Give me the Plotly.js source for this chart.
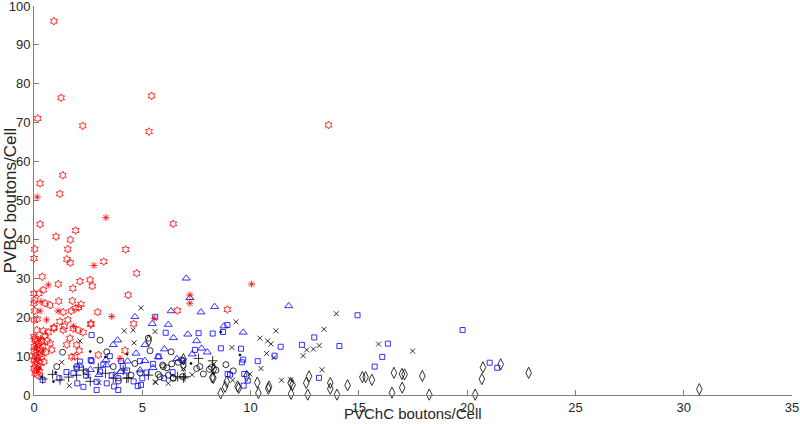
<!DOCTYPE html>
<html>
<head>
<meta charset="utf-8">
<script src="https://cdn.plot.ly/plotly-3.0.1.min.js"></script>
<style>html,body{margin:0;padding:0;background:#fff;}#chart{width:800px;height:424px;}</style>
</head>
<body>
<div id="chart"></div>
<script>
// Red hexagram series (PVChC, PVBC)
const redHexX = [0.92,1.25,5.43,0.17,2.25,5.31,13.6,1.33,0.28,1.19,6.43,0.28,1.92,1.02,1.68,0.03,1.56,4.23,0,1.52,1.68,3.22,
  0.38,2.12,2.59,2.69,1.12,1.79,0.43,0.22,0,0.03,0,0.51,0.74,1.14,1.77,2.17,1.92,2.06,1.72,0.03,1.35,2.94,0,0.15,1.19,1.56,1.4,2.62,0.92,
  4.74,4.35,6.62,8.93,2.63,4.6,4.2,2.97,2.09,1.89,1.74,
  0.12,0.43,0.66,0.92,1.35,1.81,2.04,2.27,0.05,0.36,0.74,0.82,1.51,1.66,1.97,
  0,0.05,0.1,0.2,0.02,0.15,0.3,0,0.1,0.25,0.05,0.18,0,0.12,0.28,0.05,0.2,0,0.1,0.25,0.05,0.15,0.35,0.4,0.45,0.55,0.6,0.5];
const redHexY = [96.1,76.4,76.9,71.1,69.2,67.7,69.4,56.5,54.4,51.7,44.0,43.9,42.3,40.7,39.9,37.5,37.5,37.4,35.1,34.9,34.0,34.3,
  30.4,29.2,29.6,28.0,28.5,27.4,27.0,26.1,26.1,24.4,23.6,23.6,23.1,24.1,24.2,23.3,22.3,22.5,21.6,21.6,21.3,21.3,19.3,19.5,18.9,19.3,17.6,18.1,17.4,
  31.3,25.7,21.7,22.0,18.4,18.3,11.4,10.3,11.4,9.9,9.8,
  16.7,16.5,16.1,17.1,16.7,17.1,16.7,16.1,14.1,13.7,13.3,11.6,12.9,14.6,12.9,
  15.0,14.5,13.8,13.2,12.5,12.0,11.7,11.2,10.8,10.4,10.0,9.5,9.0,8.6,8.2,7.8,7.3,6.9,6.4,6.0,5.6,5.2,9.8,12.5,8.5,11.0,13.9,15.3];

// Red asterisk series
const redAstX = [0.15,3.32,2.77,0.66,0.32,0.28,1.11,3.59,0.58,1.83,7.2,7.2,5.55,10.05,3.97,0.1,0.3,0.05,0.2,0.4];
const redAstY = [50.9,45.6,33.3,28.3,24.0,21.6,21.6,20.2,19.3,17.7,25.7,23.6,19.7,28.5,9.4,12.3,14.5,9.3,6.5,11.3];

// Blue triangle series
const blueTriX = [7.03,7.2,6.33,7.71,4.66,5.46,6.2,8.34,6.44,7.1,7.51,3.86,3.66,5.12,6.02,7.74,7.31,4.71,5.12,5.74,4.32,3.32,3.35,11.76,9.66,8.77,2.6,3.0,4.0,5.5,2.1,4.9,6.6,8.0];
const blueTriY = [30.0,25.0,21.6,21.3,20.1,18.3,18.1,22.7,14.7,15.6,13.9,14.1,12.9,12.9,11.8,12.0,10.5,10.7,8.8,9.8,8.7,9.0,7.7,22.9,16.1,17.7,6.5,5.2,6.0,7.0,7.6,6.4,9.3,11.0];

// Blue square series
const blueSqX = [0.4,1.17,1.97,2.12,2.66,2.28,2.89,3.36,2.89,3.59,3.89,3.05,2.66,2.62,1.82,5.6,6.08,8.25,8.93,8.63,5.75,7.43,4.89,4.02,4.79,4.94,3.89,
  14.94,16.34,16.08,15.73,12.94,12.37,14.1,11.39,11.11,10.33,13.16,8.73,9.56,9.66,9.6,8.94,9.05,9.71,9.87,9.68,19.79,21.04,21.39,
  2.4,3.2,4.3,4.6,5.2,5.5,6.4,3.7,2.0,1.5,4.1,5.0,6.9,7.6,3.5,6.0];
const blueSqY = [3.9,4.3,6.8,8.6,8.7,2.1,3.4,3.0,1.3,5.1,1.3,6.0,15.4,9.0,5.6,20.1,16.0,15.8,18.0,12.0,9.9,11.6,8.7,8.7,2.3,2.6,4.3,
  20.5,13.2,9.8,7.3,14.8,12.9,12.6,12.4,10.1,8.7,4.4,16.2,11.9,9.1,8.4,5.4,5.2,5.4,3.7,2.4,16.7,8.3,7.0,
  5.0,7.8,6.3,3.5,5.8,8.0,5.9,2.2,3.0,5.9,7.5,4.3,8.7,15.9,10.0,4.3];

// Black x series
const blackXX = [4.94,4.17,4.58,5.59,2.12,4.62,1.28,1.63,5.59,5.62,6.9,9.33,11.17,13.96,13.39,10.43,10.79,10.94,9.14,12.59,12.9,13.17,10.74,11.08,12.43,10.48,13.3,9.97,11.43,11.85,9.17,15.91,17.48,3.0,2.5,3.8,6.2,7.3,8.3];
const blackXY = [22.4,16.5,16.7,16.3,13.9,13.4,8.4,2.4,3.4,3.2,6.8,18.8,16.5,20.9,16.9,14.6,13.9,13.1,12.2,11.6,11.8,12.7,10.7,9.6,10.1,6.8,6.5,5.4,3.8,3.9,3.8,13.1,11.3,3.2,4.8,5.5,3.0,5.2,7.9];

// Black plus series
const blackPlusX = [0.4,0.86,1.2,1.97,2.97,2.28,3.66,4.28,6.97,8.25,6.9,6.63,5.28,4.12,4.35,2.6,3.3,7.6,1.6];
const blackPlusY = [4.1,5.3,3.9,5.1,7.0,6.4,4.3,4.3,4.7,8.8,4.4,4.7,5.1,6.4,4.4,3.5,5.6,9.4,4.6];

// Black circle series
const blackCircX = [3.05,1.32,1.05,3.36,5.28,5.36,6.82,6.36,5.97,4.66,5.82,6.86,6.43,7.82,8.2,7.66,3.66,1.97,6.33,5.94,6.13,6.2,5.74,6.42,6.66,7.51,4.48,8.86,9.2,8.4,8.1,2.4,3.9,4.9];
const blackCircY = [14.1,11.0,7.3,11.1,14.6,11.4,9.0,8.0,7.3,8.1,4.7,4.7,4.3,5.4,7.1,7.3,7.3,7.3,11.1,7.7,7.0,5.1,5.3,4.4,8.4,6.8,5.1,7.8,6.2,6.4,6.6,6.0,3.6,5.7];

// Black diamond series
const blackDiaX = [16.62,16.99,17.11,17.93,17.0,16.53,18.25,20.37,20.68,20.73,21.55,22.84,30.72,15.16,15.31,15.6,14.48,13.68,13.68,13.99,12.64,11.87,12.7,12.57,11.85,11.94,10.82,10.31,10.36,9.4,9.82,8.9,8.82,8.62,8.28,8.3,6.9,8.23,5.3,6.9,10.85,9.45];
const blackDiaY = [5.7,5.4,5.3,4.9,1.9,0.6,0.1,0.1,4.1,7.1,7.9,5.7,1.5,4.6,4.6,3.9,2.5,3.1,1.6,0.1,0.1,0.3,4.8,3.1,3.1,2.6,1.6,3.2,0.5,2.2,4.9,3.4,2.1,0.4,4.4,6.6,7.5,4.5,14.0,9.2,2.2,1.8];

// Black dot series
const blackDotX = [0.25,0.35,1.0,9.51,8.62,7.25,4.3,2.6,0.9,3.3];
const blackDotY = [6.9,4.7,5.8,10.3,16.2,8.1,10.5,11.2,3.5,9.8];

const xTicks = [0,5,10,15,20,25,30,35];
const yTicks = [0,10,20,30,40,50,60,70,80,90,100];

const RED = '#ff0000', BLUE = '#0000ff', BLACK = '#000000';
function tr(x, y, sym, color, size) {
  return {x: x, y: y, type: 'scatter', mode: 'markers', showlegend: false, hoverinfo: 'skip', cliponaxis: false,
    marker: {symbol: sym, color: color, size: size, line: {color: color, width: 0.8}}};
}
const data = [
  tr(blackDiaX, blackDiaY, 'diamond-tall-open', BLACK, 8),
  tr(blackCircX, blackCircY, 'circle-open', BLACK, 6),
  tr(blackXX, blackXY, 'x-thin-open', BLACK, 5),
  tr(blackPlusX, blackPlusY, 'cross-thin-open', BLACK, 7),
  tr(blackDotX, blackDotY, 'circle', BLACK, 2),
  tr(blueSqX, blueSqY, 'square-open', BLUE, 5),
  tr(blueTriX, blueTriY, 'triangle-up-open', BLUE, 7),
  tr(redHexX, redHexY, 'hexagram-open', RED, 6),
  tr(redAstX, redAstY, 'asterisk-open', RED, 6)
];

const FONT = 'Liberation Sans, Arial, sans-serif';
const axisCommon = {showgrid: false, zeroline: false, showline: true, linecolor: '#7f7f7f', linewidth: 1,
  ticks: 'inside', ticklen: 5, tickcolor: '#7f7f7f', tickwidth: 1, mirror: false, ticklabeloverflow: 'allow',
  tickfont: {family: FONT, size: 13, color: '#262626'}};

const layout = {
  width: 800, height: 424,
  margin: {l: 34, r: 8, t: 6, b: 29, pad: 0},
  paper_bgcolor: '#ffffff', plot_bgcolor: '#ffffff',
  xaxis: Object.assign({}, axisCommon, {range: [0, 35], tickmode: 'array', tickvals: xTicks, ticktext: xTicks.map(String)}),
  yaxis: Object.assign({}, axisCommon, {range: [0, 100], tickmode: 'array', tickvals: yTicks, ticktext: yTicks.map(String)}),
  annotations: [
    {text: 'PVChC boutons/Cell', xref: 'paper', yref: 'paper', x: 0.5, y: 0, yshift: -29, xanchor: 'center', yanchor: 'bottom', showarrow: false,
     font: {family: FONT, size: 15, color: '#262626'}},
    {text: 'PVBC boutons/Cell', xref: 'paper', yref: 'paper', x: 0, xshift: -24, y: 0.5, xanchor: 'center', yanchor: 'middle', textangle: -90, showarrow: false,
     font: {family: FONT, size: 17, color: '#262626'}}
  ]
};

Plotly.newPlot('chart', data, layout, {staticPlot: true, displayModeBar: false});
</script>
</body>
</html>
